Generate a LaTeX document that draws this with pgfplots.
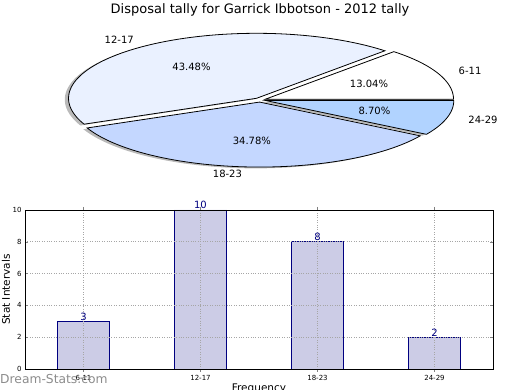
\documentclass[border=0pt]{standalone}
\usepackage{pgfplots}
\pgfplotsset{compat=1.18}
\usepackage{fontspec}
\setmainfont{DejaVu Sans}
\definecolor{barfill}{HTML}{CCCCE6}
\definecolor{navy}{HTML}{000080}
\definecolor{pieA}{HTML}{FFFFFF}
\definecolor{pieB}{HTML}{EAF1FF}
\definecolor{pieC}{HTML}{C4D7FF}
\definecolor{pieD}{HTML}{B1D3FF}
\definecolor{wm}{HTML}{8C8C8C}
% pie data (disposal counts per interval)
\def\vA{3}\def\vB{10}\def\vC{8}\def\vD{2}
\pgfmathsetmacro\tot{\vA+\vB+\vC+\vD}
\pgfmathsetmacro\sA{0}
\pgfmathsetmacro\eA{360*\vA/\tot}
\pgfmathsetmacro\eB{\eA+360*\vB/\tot}
\pgfmathsetmacro\eC{\eB+360*\vC/\tot}
\pgfmathsetmacro\eD{360}
\pgfmathsetmacro\mA{(\sA+\eA)/2}
\pgfmathsetmacro\mB{(\eA+\eB)/2}
\pgfmathsetmacro\mC{(\eB+\eC)/2}
\pgfmathsetmacro\mD{(\eC+\eD)/2}
\def\ex{0.032}
\pgfmathsetmacro\dxA{\ex*cos(\mA)}\pgfmathsetmacro\dyA{\ex*sin(\mA)}
\pgfmathsetmacro\dxB{\ex*cos(\mB)}\pgfmathsetmacro\dyB{\ex*sin(\mB)}
\pgfmathsetmacro\dxC{\ex*cos(\mC)}\pgfmathsetmacro\dyC{\ex*sin(\mC)}
\pgfmathsetmacro\dxD{\ex*cos(\mD)}\pgfmathsetmacro\dyD{\ex*sin(\mD)}
\pgfmathsetmacro\sxA{\dxA-0.02}\pgfmathsetmacro\syA{\dyA-0.02}
\pgfmathsetmacro\sxB{\dxB-0.02}\pgfmathsetmacro\syB{\dyB-0.02}
\pgfmathsetmacro\sxC{\dxC-0.02}\pgfmathsetmacro\syC{\dyC-0.02}
\pgfmathsetmacro\sxD{\dxD-0.02}\pgfmathsetmacro\syD{\dyD-0.02}
\pgfmathsetmacro\pxA{\dxA+0.6*cos(\mA)}\pgfmathsetmacro\pyA{\dyA+0.6*sin(\mA)}
\pgfmathsetmacro\pxB{\dxB+0.6*cos(\mB)}\pgfmathsetmacro\pyB{\dyB+0.6*sin(\mB)}
\pgfmathsetmacro\pxC{\dxC+0.6*cos(\mC)}\pgfmathsetmacro\pyC{\dyC+0.6*sin(\mC)}
\pgfmathsetmacro\pxD{\dxD+0.6*cos(\mD)}\pgfmathsetmacro\pyD{\dyD+0.6*sin(\mD)}
\pgfmathsetmacro\lxA{\dxA+1.1*cos(\mA)}\pgfmathsetmacro\lyA{\dyA+1.1*sin(\mA)}
\pgfmathsetmacro\lxB{\dxB+1.1*cos(\mB)}\pgfmathsetmacro\lyB{\dyB+1.1*sin(\mB)}
\pgfmathsetmacro\lxC{\dxC+1.1*cos(\mC)}\pgfmathsetmacro\lyC{\dyC+1.1*sin(\mC)}
\pgfmathsetmacro\lxD{\dxD+1.1*cos(\mD)}\pgfmathsetmacro\lyD{\dyD+1.1*sin(\mD)}
\begin{document}
\begin{tikzpicture}
\useasboundingbox (0,0) rectangle (520pt,390pt);
% ---------- pie ----------
\begin{axis}[at={(260pt,290pt)}, anchor=origin, scale only axis,
  width=488.8pt, height=169pt, xmin=-1.3, xmax=1.3, ymin=-1.3, ymax=1.3,
  hide axis, clip=false,
  every node/.style={font=\fontsize{11}{13}\selectfont}]
% shadows
\addplot[draw=none, fill=black!60, fill opacity=0.45, domain=\sA:\eA, samples=40, variable=\t] ({\sxA+cos(\t)},{\syA+sin(\t)}) -- (axis cs:\sxA,\syA) -- cycle;
\addplot[draw=none, fill=black!60, fill opacity=0.45, domain=\eA:\eB, samples=80, variable=\t] ({\sxB+cos(\t)},{\syB+sin(\t)}) -- (axis cs:\sxB,\syB) -- cycle;
\addplot[draw=none, fill=black!60, fill opacity=0.45, domain=\eB:\eC, samples=80, variable=\t] ({\sxC+cos(\t)},{\syC+sin(\t)}) -- (axis cs:\sxC,\syC) -- cycle;
\addplot[draw=none, fill=black!60, fill opacity=0.45, domain=\eC:\eD, samples=30, variable=\t] ({\sxD+cos(\t)},{\syD+sin(\t)}) -- (axis cs:\sxD,\syD) -- cycle;
% wedges
\addplot[draw=black, line width=0.8pt, fill=pieA, domain=\sA:\eA, samples=40, variable=\t] ({\dxA+cos(\t)},{\dyA+sin(\t)}) -- (axis cs:\dxA,\dyA) -- cycle;
\addplot[draw=black, line width=0.8pt, fill=pieB, domain=\eA:\eB, samples=80, variable=\t] ({\dxB+cos(\t)},{\dyB+sin(\t)}) -- (axis cs:\dxB,\dyB) -- cycle;
\addplot[draw=black, line width=0.8pt, fill=pieC, domain=\eB:\eC, samples=80, variable=\t] ({\dxC+cos(\t)},{\dyC+sin(\t)}) -- (axis cs:\dxC,\dyC) -- cycle;
\addplot[draw=black, line width=0.8pt, fill=pieD, domain=\eC:\eD, samples=30, variable=\t] ({\dxD+cos(\t)},{\dyD+sin(\t)}) -- (axis cs:\dxD,\dyD) -- cycle;
% labels
\node[anchor=center] at (axis cs:\pxA,\pyA) {13.04\%};
\node[anchor=center] at (axis cs:\pxB,\pyB) {43.48\%};
\node[anchor=center] at (axis cs:\pxC,\pyC) {34.78\%};
\node[anchor=center] at (axis cs:\pxD,\pyD) {8.70\%};
\node[anchor=west] at (axis cs:\lxA,\lyA) {6-11};
\node[anchor=east] at (axis cs:\lxB,\lyB) {12-17};
\node[anchor=east] at (axis cs:\lxC,\lyC) {18-23};
\node[anchor=west] at (axis cs:\lxD,\lyD) {24-29};
\end{axis}
% ---------- bars ----------
\begin{axis}[at={(25pt,21pt)}, anchor=south west, scale only axis,
  width=468pt, height=159pt, xmin=-0.5, xmax=3.5, ymin=0, ymax=10,
  ytick={0,2,4,6,8,10}, xtick={0,1,2,3},
  xticklabels={6-11,12-17,18-23,24-29},
  tick align=inside, major tick length=3pt,
  ticklabel style={font=\fontsize{7}{8}\selectfont},
  /pgf/number format/assume math mode=true,
  grid=major, grid style={gray!70, dotted, line width=0.6pt},
  axis on top, axis line style={line width=0.8pt},
  ybar, bar width=0.45,
  nodes near coords,
  nodes near coords style={font=\fontsize{10}{12}\selectfont, text=navy, inner sep=0.5pt},
  clip=false]
\addplot[fill=barfill, draw=navy, line width=0.8pt] coordinates {(0,3) (1,10) (2,8) (3,2)};
\end{axis}
\node[anchor=base, font=\fontsize{13}{15}\selectfont] at (260pt,376.7pt) {Disposal tally for Garrick Ibbotson - 2012 tally};
\node[rotate=90, font=\fontsize{10.5}{12}\selectfont] at (6pt,100.5pt) {Stat Intervals};
\node[anchor=base, font=\fontsize{10.5}{12}\selectfont] at (259pt,-2pt) {Frequency};
\node[anchor=base west, inner sep=0pt, text=wm, font=\fontsize{12.3}{14}\selectfont] at (0pt,6pt) {Dream-Stats.com};
\end{tikzpicture}
\end{document}
